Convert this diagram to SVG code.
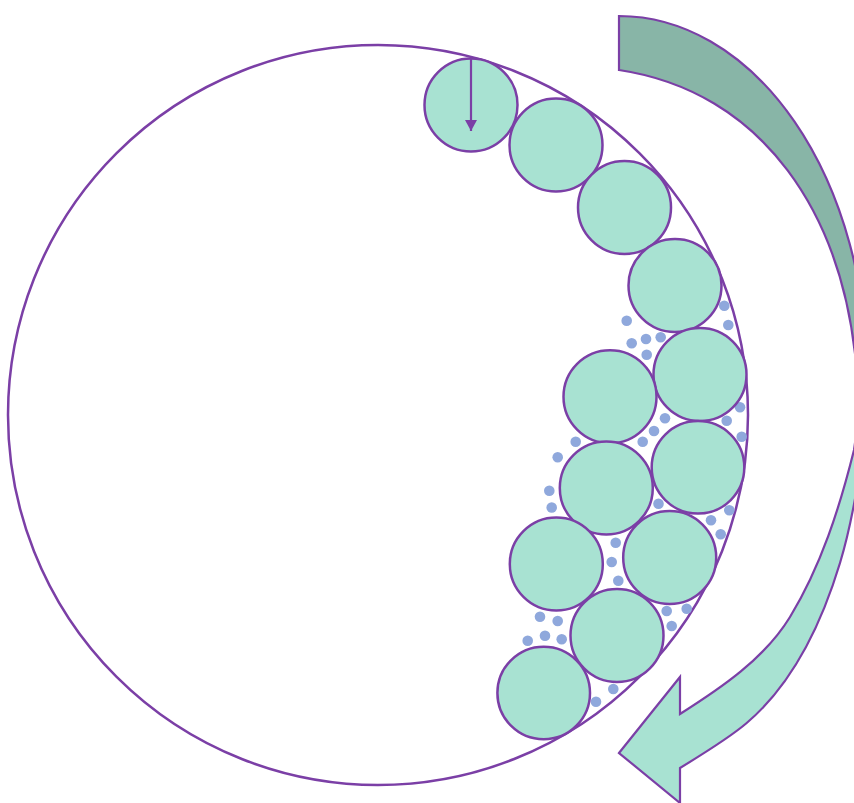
<svg xmlns="http://www.w3.org/2000/svg" width="854" height="803" viewBox="0 0 854 803">
<defs>
<style>
.ring{fill:none;stroke:#7b3fa6;stroke-width:2.5}
.ball{fill:#a8e2d2;stroke:#7b3fa6;stroke-width:2.5}
.dot{fill:#8fa8dc}
.arr{stroke:#7b3fa6;stroke-width:2.2;stroke-linejoin:miter}
</style>
<marker id="ah" markerWidth="12" markerHeight="12" refX="11" refY="6" orient="auto" markerUnits="userSpaceOnUse" viewBox="0 0 12 12">
<path d="M0,0 L11,6 L0,12 Z" fill="#7b3fa6"/>
</marker>
</defs>
<rect width="854" height="803" fill="#fff"/>
<g id="drum"><circle class="ring" cx="378" cy="415" r="370"/></g>
<g id="particles">
<circle class="dot" cx="724.3" cy="305.7" r="5.3"/>
<circle class="dot" cx="728.3" cy="325" r="5.3"/>
<circle class="dot" cx="626.7" cy="320.7" r="5.3"/>
<circle class="dot" cx="631.7" cy="343.3" r="5.3"/>
<circle class="dot" cx="646" cy="339" r="5.3"/>
<circle class="dot" cx="660.7" cy="337.3" r="5.3"/>
<circle class="dot" cx="646.7" cy="354.7" r="5.3"/>
<circle class="dot" cx="740" cy="407.3" r="5.3"/>
<circle class="dot" cx="726.7" cy="420.7" r="5.3"/>
<circle class="dot" cx="741.7" cy="436.7" r="5.3"/>
<circle class="dot" cx="665" cy="418.3" r="5.3"/>
<circle class="dot" cx="654" cy="431" r="5.3"/>
<circle class="dot" cx="642.7" cy="441.7" r="5.3"/>
<circle class="dot" cx="575.7" cy="441.7" r="5.3"/>
<circle class="dot" cx="557.7" cy="457.3" r="5.3"/>
<circle class="dot" cx="549.3" cy="490.7" r="5.3"/>
<circle class="dot" cx="551.7" cy="507.5" r="5.3"/>
<circle class="dot" cx="658.5" cy="503.7" r="5.3"/>
<circle class="dot" cx="729.3" cy="510.3" r="5.3"/>
<circle class="dot" cx="711" cy="520.3" r="5.3"/>
<circle class="dot" cx="720.7" cy="534.2" r="5.3"/>
<circle class="dot" cx="615.7" cy="542.7" r="5.3"/>
<circle class="dot" cx="611.7" cy="562" r="5.3"/>
<circle class="dot" cx="618.3" cy="580.7" r="5.3"/>
<circle class="dot" cx="540" cy="616.7" r="5.3"/>
<circle class="dot" cx="557.7" cy="621" r="5.3"/>
<circle class="dot" cx="527.7" cy="640.7" r="5.3"/>
<circle class="dot" cx="545" cy="635.7" r="5.3"/>
<circle class="dot" cx="561.7" cy="639.3" r="5.3"/>
<circle class="dot" cx="666.7" cy="611" r="5.3"/>
<circle class="dot" cx="686.7" cy="608.7" r="5.3"/>
<circle class="dot" cx="671.7" cy="626" r="5.3"/>
<circle class="dot" cx="613.3" cy="689" r="5.3"/>
<circle class="dot" cx="596" cy="701.7" r="5.3"/>
</g>
<g id="ball1"><circle class="ball" cx="471" cy="105" r="46.5"/></g>
<g id="ball2"><circle class="ball" cx="556" cy="145" r="46.5"/></g>
<g id="ball3"><circle class="ball" cx="624.5" cy="207.5" r="46.5"/></g>
<g id="ball4"><circle class="ball" cx="675" cy="285.5" r="46.5"/></g>
<g id="ball5"><circle class="ball" cx="700" cy="374.5" r="46.5"/></g>
<g id="ball6"><circle class="ball" cx="610" cy="396.7" r="46.5"/></g>
<g id="ball7"><circle class="ball" cx="698" cy="467.3" r="46.3"/></g>
<g id="ball8"><circle class="ball" cx="606.3" cy="488" r="46.5"/></g>
<g id="ball9"><circle class="ball" cx="669.7" cy="557.5" r="46.5"/></g>
<g id="ball10"><circle class="ball" cx="556.3" cy="564" r="46.5"/></g>
<g id="ball11"><circle class="ball" cx="617" cy="635.5" r="46.5"/></g>
<g id="ball12"><circle class="ball" cx="543.7" cy="693" r="46.3"/></g>
<g id="connectors">
<line x1="471" y1="58" x2="471" y2="131" stroke="#7b3fa6" stroke-width="2.2" marker-end="url(#ah)"/>
</g>
<g id="rotation-arrow">
<path class="arr" fill="#88b5a7" d="M619,16 A248,360 0 0 1 867,376 L870,392 L858,390 C849,210 759,91 619,70 Z"/>
<path class="arr" fill="#a8e2d2" d="M619,753 L680,677 L680,714 C721,688 764.5,658.7 790,617 C821,566 839.6,508 854,450 L862,395 L872,395 L866,400 C866,440 854.5,515 840,563 C822,622.5 793.7,683 746.7,723 C729.7,737.6 699,756.4 680,768 L680,803 Z"/>
</g>
</svg>
